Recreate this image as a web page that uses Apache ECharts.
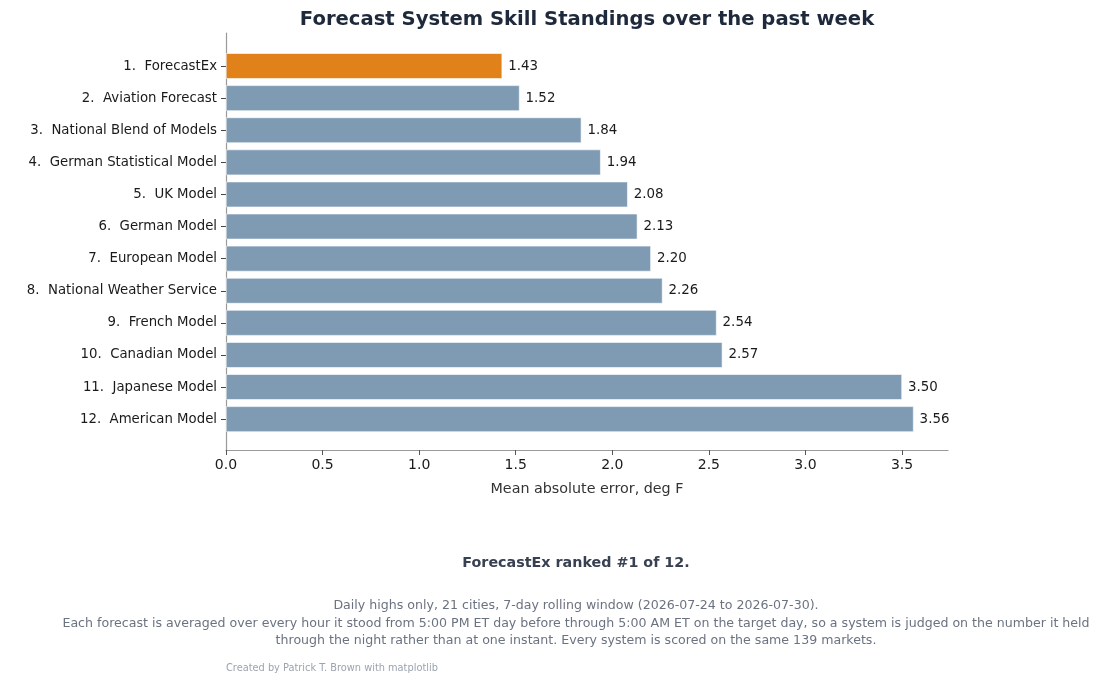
<!DOCTYPE html>
<html>
<head>
<meta charset="utf-8">
<script src="https://cdn.jsdelivr.net/npm/echarts@6/dist/echarts.min.js"></script>
<style>
  html, body { margin: 0; padding: 0; background: #fff; }
  #chart { width: 1100px; height: 684px; }
</style>
</head>
<body>
<div id="chart"></div>
<script>
// ranking data, best (lowest error) first
const systems = [
  '1.  ForecastEx', '2.  Aviation Forecast', '3.  National Blend of Models',
  '4.  German Statistical Model', '5.  UK Model', '6.  German Model',
  '7.  European Model', '8.  National Weather Service', '9.  French Model',
  '10.  Canadian Model', '11.  Japanese Model', '12.  American Model'
];
const maeValues = [1.43, 1.52, 1.84, 1.94, 2.08, 2.13, 2.20, 2.26, 2.54, 2.57, 3.50, 3.56];
const highlightIndex = 0;
const xTicks = [0.0, 0.5, 1.0, 1.5, 2.0, 2.5, 3.0, 3.5];

const FONT = 'DejaVu Sans';
const xMax = 3.738;

const chart = echarts.init(document.getElementById('chart'), null, { renderer: 'canvas' });

const barData = maeValues.map((v, i) => ({
    value: v,
    itemStyle: { color: i === highlightIndex ? '#E0811A' : '#7F9BB3' }
}));

const option = {
    backgroundColor: '#ffffff',
    animation: false,
    textStyle: { fontFamily: FONT },
    title: [{
        text: 'Forecast System Skill Standings over the past week',
        left: 587, top: 10, textAlign: 'center', padding: 0,
        textStyle: { fontFamily: FONT, fontSize: 19.6, fontWeight: 'bold', color: '#1e293b' }
    }, {
        text: 'ForecastEx ranked #1 of 12.',
        left: 576, top: 556, textAlign: 'center', padding: 0,
        textStyle: { fontFamily: FONT, fontSize: 14.3, fontWeight: 'bold', color: '#374151' }
    }, {
        text: 'Daily highs only, 21 cities, 7-day rolling window (2026-07-24 to 2026-07-30).\n' +
              'Each forecast is averaged over every hour it stood from 5:00 PM ET day before through 5:00 AM ET on the target day, so a system is judged on the number it held\n' +
              'through the night rather than at one instant. Every system is scored on the same 139 markets.',
        left: 576, top: 597, textAlign: 'center', padding: 0,
        textStyle: { fontFamily: FONT, fontSize: 12.6, fontWeight: 'normal', color: '#6b7280', lineHeight: 17.5, align: 'center' }
    }, {
        text: 'Created by Patrick T. Brown with matplotlib',
        left: 226, top: 663, padding: 0,
        textStyle: { fontFamily: FONT, fontSize: 9.8, fontWeight: 'normal', color: '#9ca3af' }
    }],
    grid: [
        // bars
        { left: 226, right: 152, top: 50, height: 385.2 },
        // frame with spines and x ticks
        { left: 226, right: 152, top: 33, height: 417 }
    ],
    xAxis: [{
        gridIndex: 0, type: 'value', min: 0, max: xMax,
        show: false
    }, {
        gridIndex: 1, type: 'value', min: 0, max: xMax, interval: 0.5,
        axisLine: { show: true, lineStyle: { color: '#9a9a9a', width: 1.2 } },
        axisTick: { show: true, length: 5, customValues: xTicks, lineStyle: { color: '#555' } },
        splitLine: { show: false },
        axisLabel: {
            fontFamily: FONT, fontSize: 14, color: '#1a1a1a', margin: 8,
            customValues: xTicks,
            formatter: v => v.toFixed(1)
        },
        name: 'Mean absolute error, deg F',
        nameLocation: 'middle', nameGap: 32,
        nameTextStyle: { fontFamily: FONT, fontSize: 14.3, color: '#333' }
    }],
    yAxis: [{
        gridIndex: 0, type: 'category', inverse: true, data: systems,
        axisLine: { show: false },
        axisTick: { show: true, alignWithLabel: true, length: 5, lineStyle: { color: '#444' } },
        axisLabel: { fontFamily: FONT, fontSize: 13.3, color: '#1a1a1a', margin: 9 }
    }, {
        gridIndex: 1, type: 'value', min: 0, max: 1,
        axisLine: { show: true, lineStyle: { color: '#9a9a9a', width: 1.2 } },
        axisTick: { show: false }, axisLabel: { show: false }, splitLine: { show: false }
    }],
    series: [{
        type: 'bar',
        xAxisIndex: 0, yAxisIndex: 0,
        data: barData,
        barWidth: '80%',
        itemStyle: { borderColor: '#ffffff', borderWidth: 0.6 },
        label: {
            show: true, position: 'right', distance: 6,
            fontFamily: FONT, fontSize: 13.4, color: '#1a1a1a',
            formatter: p => p.value.toFixed(2)
        }
    }]
};

chart.setOption(option);
window.addEventListener('resize', function () {
    chart.resize();
});
</script>
</body>
</html>
